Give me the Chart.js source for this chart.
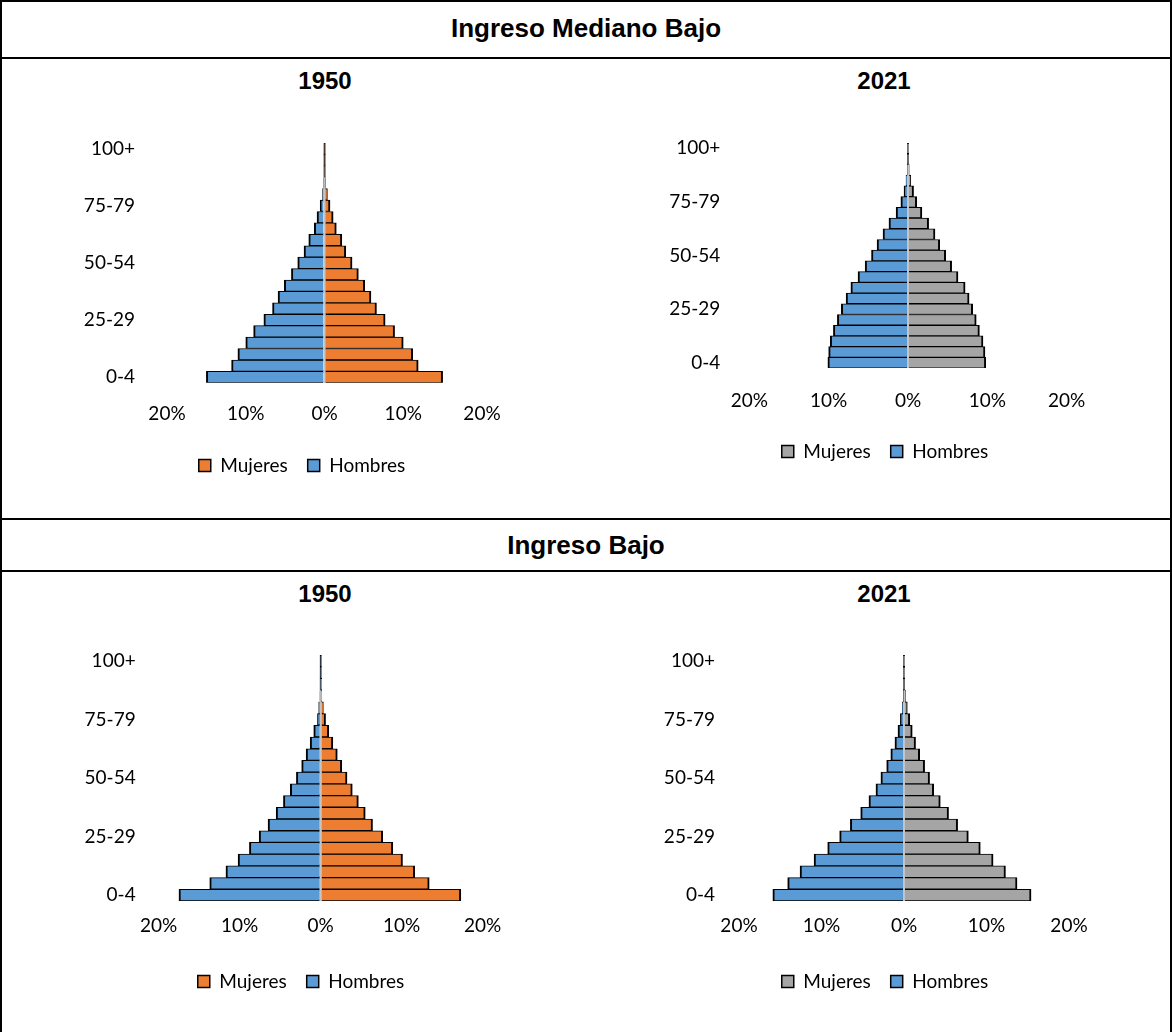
<!DOCTYPE html>
<html>
<head>
<meta charset="utf-8">
<script src="https://cdn.jsdelivr.net/npm/chart.js@4.4.1/dist/chart.umd.min.js"></script>
<style>
  body { margin: 0; background: #fff; }
  #page { position: relative; width: 1172px; height: 1032px; overflow: hidden;
          font-family: "Liberation Sans", Arial, sans-serif; color: #000; }
  .rule { position: absolute; background: #000; }
  .head { position: absolute; font-weight: bold; line-height: 1; white-space: nowrap;
          transform: translate(-50%, -50%); }
  .big { font-size: 26px; }
  .year { font-size: 24px; }
  .box { position: absolute; }
</style>
</head>
<body>
<div id="page">
  <!-- table rules -->
  <div class="rule" style="left:0;top:0;width:1172px;height:2px"></div>
  <div class="rule" style="left:0;top:57px;width:1172px;height:2px"></div>
  <div class="rule" style="left:0;top:518px;width:1172px;height:2px"></div>
  <div class="rule" style="left:0;top:570px;width:1172px;height:2px"></div>
  <div class="rule" style="left:0;top:0;width:2px;height:1032px"></div>
  <div class="rule" style="left:1170px;top:0;width:2px;height:1032px"></div>

  <div class="head big" style="left:586px;top:28px">Ingreso Mediano Bajo</div>
  <div class="head year" style="left:325px;top:81px">1950</div>
  <div class="head year" style="left:884px;top:81px">2021</div>

  <div class="head big" style="left:586px;top:545px">Ingreso Bajo</div>
  <div class="head year" style="left:325px;top:594px">1950</div>
  <div class="head year" style="left:884px;top:594px">2021</div>

  <div class="box" style="left:60px;top:99px"><canvas id="pyrMB1950" width="469" height="386"></canvas></div>
  <div class="box" style="left:640px;top:99px"><canvas id="pyrMB2021" width="470" height="372"></canvas></div>
  <div class="box" style="left:60px;top:619px"><canvas id="pyrB1950" width="467" height="382"></canvas></div>
  <div class="box" style="left:640px;top:619px"><canvas id="pyrB2021" width="475" height="382"></canvas></div>
</div>

<script>
// Age groups, youngest first
const AGE_GROUPS = ["0-4", "5-9", "10-14", "15-19", "20-24", "25-29", "30-34", "35-39",
    "40-44", "45-49", "50-54", "55-59", "60-64", "65-69", "70-74", "75-79",
    "80-84", "85-89", "90-94", "95-99", "100+"];

// Share of total population (%)

// Ingreso Mediano Bajo, 1950
const mbMujeres1950 = [15.0, 11.9, 11.2, 10.0, 8.9, 7.7, 6.6, 5.9, 5.1, 4.3, 3.5, 2.7, 2.2, 1.5, 1.1, 0.7, 0.37, 0.12, 0.03, 0.01, 0.001];
const mbHombres1950 = [15.0, 11.8, 11.0, 10.0, 9.0, 7.7, 6.6, 5.9, 5.1, 4.2, 3.4, 2.6, 2.0, 1.3, 0.95, 0.55, 0.25, 0.08, 0.02, 0.005, 0.001];

// Ingreso Mediano Bajo, 2021
const mbMujeres2021 = [9.8, 9.7, 9.45, 9.0, 8.6, 8.15, 7.7, 7.2, 6.3, 5.5, 4.75, 4.0, 3.4, 2.6, 1.75, 1.1, 0.7, 0.35, 0.15, 0.05, 0.01];
const mbHombres2021 = [10.1, 10.0, 9.8, 9.4, 8.9, 8.4, 7.8, 7.2, 6.3, 5.4, 4.6, 3.9, 3.15, 2.4, 1.5, 0.9, 0.5, 0.25, 0.1, 0.03, 0.005];

// Ingreso Bajo, 1950
const bMujeres1950 = [17.3, 13.4, 11.6, 10.1, 8.9, 7.65, 6.4, 5.5, 4.65, 3.9, 3.25, 2.6, 2.05, 1.5, 1.0, 0.6, 0.33, 0.12, 0.04, 0.01, 0.001];
const bHombres1950 = [17.5, 13.7, 11.7, 10.2, 8.8, 7.6, 6.5, 5.5, 4.6, 3.75, 3.0, 2.35, 1.8, 1.3, 0.86, 0.4, 0.25, 0.1, 0.03, 0.01, 0.001];

// Ingreso Bajo, 2021
const bMujeres2021 = [15.4, 13.7, 12.3, 10.8, 9.25, 7.8, 6.5, 5.4, 4.4, 3.6, 3.1, 2.5, 1.9, 1.4, 1.0, 0.7, 0.4, 0.18, 0.05, 0.01, 0.001];
const bHombres2021 = [15.9, 14.1, 12.6, 10.9, 9.25, 7.8, 6.5, 5.25, 4.25, 3.4, 2.8, 2.1, 1.6, 1.1, 0.73, 0.44, 0.2, 0.08, 0.02, 0.005, 0.001];

// x axis ticks (% either side of zero)
const X_MIN = -20;
const X_MAX = 20;
const X_STEP = 10;


// COLOURS
const BLUE = "#5b9bd5";
const ORANGE = "#ed7d31";
const GREY = "#a5a5a5";

const TICK_FONT = { family: "Lato", size: 19 };


//====================== PYRAMID ========================
// geo: layout padding, y axis width / tick padding, x tick padding,
// height correction under the x labels, empty strip right of the plot (centres the legend)
function BuildPyramid(canvasId, mujeres, hombres, mujeresColour, geo) {

    const ctx = document.getElementById(canvasId).getContext("2d");
    const barBorder = { top: 1, bottom: 1, left: 2, right: 2 };

    return new Chart(ctx, {
        type: "bar",
        data: {
            labels: AGE_GROUPS,
            datasets: [
                {
                    label: "Mujeres",
                    data: mujeres,
                    backgroundColor: mujeresColour,
                    borderColor: "#000000",
                    borderWidth: barBorder,
                    borderSkipped: "start"
                },
                {
                    label: "Hombres",
                    // men drawn to the left of the axis
                    data: hombres.map(v => -v),
                    backgroundColor: BLUE,
                    borderColor: "#000000",
                    borderWidth: barBorder,
                    borderSkipped: "start"
                }
            ]
        },
        options: {
            indexAxis: "y",
            responsive: false,
            animation: false,
            datasets: {
                bar: { categoryPercentage: 1, barPercentage: 1 }
            },
            layout: {
                padding: { left: geo.padLeft, right: geo.padRight, top: geo.padTop, bottom: 0 }
            },
            scales: {
                x: {
                    stacked: true,
                    min: X_MIN,
                    max: X_MAX,
                    z: 1,   // zero line over the bars
                    border: { display: false },
                    grid: {
                        drawTicks: false,
                        lineWidth: 2,
                        color: c => c.tick && c.tick.value === 0 ? "#c4c4c4" : "rgba(0,0,0,0)"
                    },
                    ticks: {
                        stepSize: X_STEP,
                        padding: geo.xPad,
                        color: "#000000",
                        font: TICK_FONT,
                        callback: v => Math.abs(v) + "%"
                    },
                    afterFit: s => { s.height += geo.xExtra; }
                },
                y: {
                    stacked: true,
                    reverse: true,
                    border: { display: false },
                    grid: { display: false, drawTicks: false },
                    ticks: {
                        autoSkip: false,
                        padding: geo.yPad,
                        color: "#000000",
                        font: TICK_FONT,
                        callback: function (v, i) {
                            return i % 5 === 0 ? this.getLabelForValue(v) : "";
                        }
                    },
                    afterFit: s => { s.width = geo.yWidth; }
                },
                // empty strip on the right so the legend sits where Excel put it
                pad: {
                    type: "category",
                    axis: "y",
                    position: "right",
                    border: { display: false },
                    grid: { display: false, drawTicks: false },
                    ticks: { display: false },
                    afterFit: s => { s.width = geo.rightStrip; }
                }
            },
            plugins: {
                legend: {
                    position: "bottom",
                    labels: {
                        boxWidth: 12,
                        boxHeight: 12,
                        padding: 20,
                        color: "#000000",
                        font: TICK_FONT
                    }
                },
                tooltip: { enabled: false }
            }
        }
    });
}


BuildPyramid("pyrMB1950", mbMujeres1950, mbHombres1950, ORANGE,
    { padLeft: 20, padRight: 5, padTop: 44, yWidth: 87, yPad: 32, xPad: 20, xExtra: -9.6, rightStrip: 42 });

BuildPyramid("pyrMB2021", mbMujeres2021, mbHombres2021, GREY,
    { padLeft: 25, padRight: 5, padTop: 44, yWidth: 84.3, yPad: 29, xPad: 21, xExtra: -10.9, rightStrip: 38.3 });

BuildPyramid("pyrB1950", bMujeres1950, bHombres1950, ORANGE,
    { padLeft: 20, padRight: 5, padTop: 36, yWidth: 78.7, yPad: 23, xPad: 13, xExtra: 2.2, rightStrip: 39.3 });

BuildPyramid("pyrB2021", bMujeres2021, bHombres2021, GREY,
    { padLeft: 20, padRight: 5, padTop: 36, yWidth: 79, yPad: 24, xPad: 13, xExtra: 2.2, rightStrip: 41 });
</script>
</body>
</html>
